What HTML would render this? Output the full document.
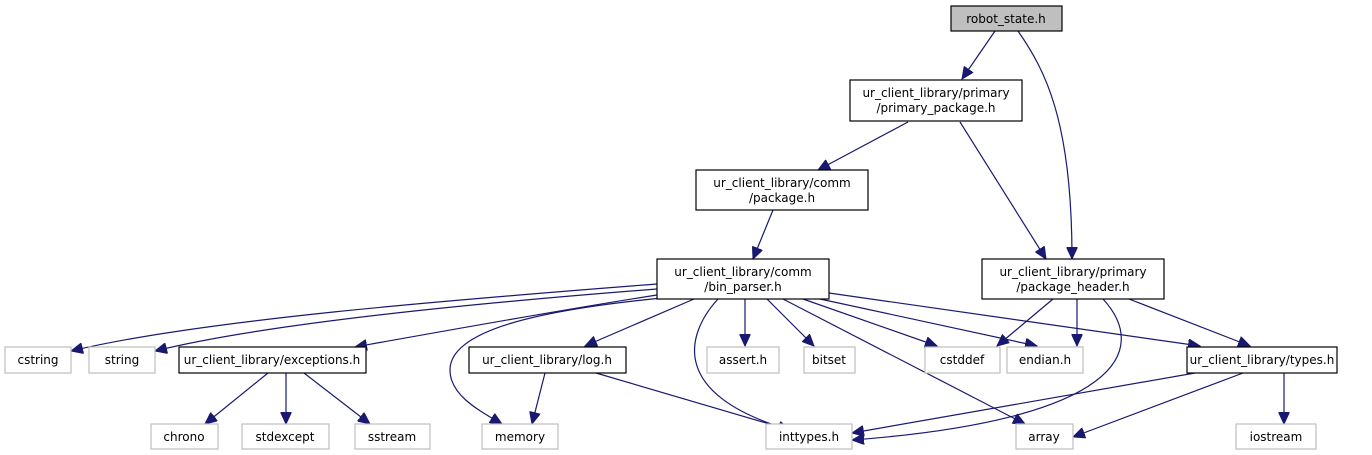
<!DOCTYPE html>
<html><head><meta charset="utf-8"><style>
body{margin:0;background:#fff;}
svg{display:block;}
text{font-family:"DejaVu Sans","Liberation Sans",sans-serif;font-size:12px;fill:#000;}
</style></head><body>
<svg width="1372" height="455" viewBox="0 0 1372 455" xmlns="http://www.w3.org/2000/svg">
<defs>
<marker id="a" markerWidth="13" markerHeight="11" refX="12" refY="5.5" orient="auto" markerUnits="userSpaceOnUse">
<path d="M0,0 L12,5.5 L0,11 Z" fill="#191970" stroke="#191970"/>
</marker>
</defs>
<g fill="none" stroke="#191970" stroke-width="1.2" marker-end="url(#a)">
<path d="M995,31 L962,79"/>
<path d="M1018,31 C1045,70 1072,120 1072,259"/>
<path d="M908,122 L818,170"/>
<path d="M960,122 L1046,259"/>
<path d="M773,210 L753,259"/>
<path d="M657,284 C450,300 200,320 71,351"/>
<path d="M657,289 C450,305 260,325 155,351"/>
<path d="M657,295 C560,310 450,330 355,347"/>
<path d="M662,298 C540,310 450,330 450,370 C450,395 478,410 502,424"/>
<path d="M694,299 L585,346"/>
<path d="M718,299 C685,335 670,395 790,430"/>
<path d="M745,299 L745,346"/>
<path d="M767,299 L814,346"/>
<path d="M783,299 L1025,424"/>
<path d="M803,299 L937,346"/>
<path d="M820,299 L1037,346"/>
<path d="M829,293 L1200,346"/>
<path d="M1053,299 L997,346"/>
<path d="M1077,299 L1077,346"/>
<path d="M1103,299 C1150,350 1120,420 852,440"/>
<path d="M1129,299 L1250,346"/>
<path d="M1195,373 L852,433"/>
<path d="M1243,373 L1073,437"/>
<path d="M1284,373 L1284,424"/>
<path d="M545,373 L532,424"/>
<path d="M596,373 L790,430"/>
<path d="M268,373 L205,424"/>
<path d="M286,373 L286,424"/>
<path d="M304,373 L370,424"/>
</g>
<g stroke-width="1.2">
<rect x="951" y="6" width="111" height="25" fill="#bfbfbf" stroke="#000"/>
<rect x="850" y="80" width="172" height="41" fill="#fff" stroke="#000"/>
<rect x="696" y="170" width="172" height="40" fill="#fff" stroke="#000"/>
<rect x="657" y="259" width="172" height="40" fill="#fff" stroke="#000"/>
<rect x="982" y="259" width="182" height="40" fill="#fff" stroke="#000"/>
<rect x="179" y="347" width="187" height="26" fill="#fff" stroke="#000"/>
<rect x="469" y="347" width="157" height="26" fill="#fff" stroke="#000"/>
<rect x="1187" y="347" width="150" height="26" fill="#fff" stroke="#000"/>
</g>
<g fill="#fff" stroke="#bfbfbf" stroke-width="1.2">
<rect x="5" y="347" width="66" height="26"/>
<rect x="89" y="347" width="66" height="26"/>
<rect x="707" y="347" width="72" height="26"/>
<rect x="804" y="347" width="51" height="26"/>
<rect x="925" y="347" width="75" height="26"/>
<rect x="1007" y="347" width="76" height="26"/>
<rect x="151" y="424" width="67" height="25"/>
<rect x="242" y="424" width="87" height="25"/>
<rect x="355" y="424" width="75" height="25"/>
<rect x="482" y="424" width="76" height="25"/>
<rect x="766" y="424" width="86" height="25"/>
<rect x="1016" y="424" width="57" height="25"/>
<rect x="1236" y="424" width="80" height="25"/>
</g>
<g text-anchor="middle">
<text x="1006" y="23">robot_state.h</text>
<text x="936" y="97">ur_client_library/primary</text>
<text x="936" y="112">/primary_package.h</text>
<text x="782" y="187">ur_client_library/comm</text>
<text x="782" y="202">/package.h</text>
<text x="743" y="276">ur_client_library/comm</text>
<text x="743" y="291">/bin_parser.h</text>
<text x="1073" y="276">ur_client_library/primary</text>
<text x="1073" y="291">/package_header.h</text>
<text x="38" y="364">cstring</text>
<text x="122" y="364">string</text>
<text x="272" y="364">ur_client_library/exceptions.h</text>
<text x="547" y="364">ur_client_library/log.h</text>
<text x="743" y="364">assert.h</text>
<text x="829" y="364">bitset</text>
<text x="962" y="364">cstddef</text>
<text x="1045" y="364">endian.h</text>
<text x="1262" y="364">ur_client_library/types.h</text>
<text x="184" y="441">chrono</text>
<text x="285" y="441">stdexcept</text>
<text x="392" y="441">sstream</text>
<text x="520" y="441">memory</text>
<text x="809" y="441">inttypes.h</text>
<text x="1044" y="441">array</text>
<text x="1276" y="441">iostream</text>
</g>
</svg>
</body></html>
